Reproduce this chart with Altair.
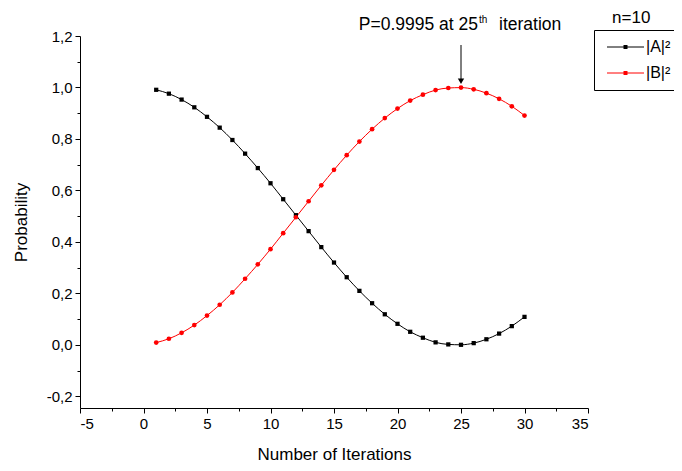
import altair as alt
import pandas as pd

# ---------------- data ----------------
iterations = [1, 2, 3, 4, 5, 6, 7, 8, 9, 10, 11, 12, 13, 14, 15,
              16, 17, 18, 19, 20, 21, 22, 23, 24, 25, 26, 27, 28, 29, 30]
prob_a = [0.991, 0.976, 0.953, 0.923, 0.886, 0.844, 0.796, 0.743, 0.687, 0.628,
          0.566, 0.504, 0.442, 0.380, 0.320, 0.263, 0.210, 0.162, 0.119, 0.082,
          0.051, 0.028, 0.010, 0.002, 0.0005, 0.007, 0.022, 0.044, 0.073, 0.109]
prob_b = [0.009, 0.024, 0.047, 0.077, 0.114, 0.156, 0.204, 0.257, 0.313, 0.372,
          0.434, 0.496, 0.558, 0.620, 0.680, 0.737, 0.790, 0.838, 0.881, 0.918,
          0.949, 0.972, 0.990, 0.998, 0.9995, 0.993, 0.978, 0.956, 0.927, 0.891]
series_names = ["|A|²", "|B|²"]
series_colors = ["black", "red"]
legend_title = "n=10"

x_ticks = [-5, -2.5, 0, 2.5, 5, 7.5, 10, 12.5, 15, 17.5, 20, 22.5, 25, 27.5, 30, 32.5, 35]
y_ticks = [-0.2, -0.1, 0.0, 0.1, 0.2, 0.3, 0.4, 0.5, 0.6, 0.7, 0.8, 0.9, 1.0, 1.1, 1.2]

peak_iter = 25
annot_main = "P=0.9995 at 25"
annot_sup = "th"
annot_tail = "iteration"

FONT = "Liberation Sans"

# ---------------- tables ----------------
df = pd.DataFrame({
    "iter": iterations * 2,
    "prob": prob_a + prob_b,
    "series": [series_names[0]] * len(iterations) + [series_names[1]] * len(iterations),
})

x_axis = alt.Axis(
    values=x_ticks, title="Number of Iterations", grid=False,
    labelExpr="datum.value % 5 == 0 ? replace(format(datum.value, 'd'), '\u2212', '-') : ''",
    tickSize={"expr": "datum.value % 5 == 0 ? 5 : 3"},
    labelPadding=3, titlePadding=15,
)
y_axis = alt.Axis(
    values=y_ticks, title="Probability", grid=False,
    labelExpr="abs(round(datum.value * 10)) % 2 == 0 ? replace(replace(format(datum.value, '.1f'), '.', ','), '\u2212', '-') : ''",
    tickSize={"expr": "abs(round(datum.value * 10)) % 2 == 0 ? 5 : 3"},
    labelPadding=3, titlePadding=16,
)
x_scale = alt.Scale(domain=[-5, 35], nice=False, zero=False)
y_scale = alt.Scale(domain=[-0.245, 1.2], nice=False, zero=False)

X = alt.X("iter:Q", scale=x_scale, axis=x_axis)
Y = alt.Y("prob:Q", scale=y_scale, axis=y_axis)

color_scale = alt.Scale(domain=series_names, range=series_colors)

# legend symbol (unit = 5 px): a line with a small solid marker built from stroked lines
legend_symbol = (
    "M-0.8,0H6.6"
    "M2.5,-0.3H3.3M2.5,-0.1H3.3M2.5,0.1H3.3M2.5,0.3H3.3"
)
leg = alt.Legend(
    title=None, orient="none", legendX=514, legendY=-6,
    strokeColor="black", padding=9,
    symbolType=legend_symbol, symbolSize=100, symbolStrokeWidth=1,
    labelFont=FONT, labelFontSize=16, labelColor="black",
    labelOffset=27, rowPadding=10,
)

lines = alt.Chart(df).mark_line(strokeWidth=1, interpolate="monotone").encode(
    x=X, y=Y, color=alt.Color("series:N", scale=color_scale, legend=leg),
)

pts_a = alt.Chart(df).transform_filter(
    alt.datum.series == series_names[0]
).mark_point(filled=True, shape="square", size=18, opacity=1).encode(
    x=X, y=Y, color=alt.Color("series:N", scale=color_scale, legend=None),
)
pts_b = alt.Chart(df).transform_filter(
    alt.datum.series == series_names[1]
).mark_point(filled=True, shape="circle", size=22, opacity=1).encode(
    x=X, y=Y, color=alt.Color("series:N", scale=color_scale, legend=None),
)

# annotation arrow + text
arrow_df = pd.DataFrame({"iter": [peak_iter], "prob": [1.165], "prob2": [1.03]})
arrow_line = alt.Chart(arrow_df).mark_rule(color="black", strokeWidth=1).encode(
    x=X, y=Y, y2="prob2:Q"
)
head_df = pd.DataFrame({"iter": [peak_iter], "prob": [1.024]})
arrow_head = alt.Chart(head_df).mark_point(
    shape="triangle-down", filled=True, color="black", size=40, opacity=1
).encode(x=X, y=Y)

txt_df = pd.DataFrame({"iter": [peak_iter], "prob": [1.223]})
txt_main = alt.Chart(txt_df).mark_text(
    text=annot_main, align="right", baseline="alphabetic", dx=17,
    font=FONT, fontSize=17.5, color="black"
).encode(x=X, y=Y)
txt_sup = alt.Chart(txt_df).mark_text(
    text=annot_sup, align="left", baseline="alphabetic", dx=18, dy=-7,
    font=FONT, fontSize=10, color="black"
).encode(x=X, y=Y)
txt_tail = alt.Chart(txt_df).mark_text(
    text=annot_tail, align="left", baseline="alphabetic", dx=38,
    font=FONT, fontSize=17.5, color="black"
).encode(x=X, y=Y)

title_df = pd.DataFrame({"iter": [38.4], "prob": [1.25]})
legend_title_mark = alt.Chart(title_df).mark_text(
    text=legend_title, align="center", baseline="alphabetic",
    font=FONT, fontSize=17, color="black"
).encode(x=X, y=Y)

chart = alt.layer(
    lines, pts_a, pts_b, arrow_line, arrow_head,
    txt_main, txt_sup, txt_tail, legend_title_mark
).properties(
    width=508, height=372,
    autosize=alt.AutoSizeParams(type="none"),
    padding={"left": 72, "top": 28, "right": 86, "bottom": 55},
).configure_view(stroke=None).configure_axis(
    domainColor="black", domainWidth=1, tickColor="black", tickWidth=1,
    labelFont=FONT, labelFontSize=15, labelColor="black",
    titleFont=FONT, titleFontSize=17, titleFontWeight="normal", titleColor="black",
)

chart.save("out.html", embed_options={"renderer": "svg", "actions": False})
